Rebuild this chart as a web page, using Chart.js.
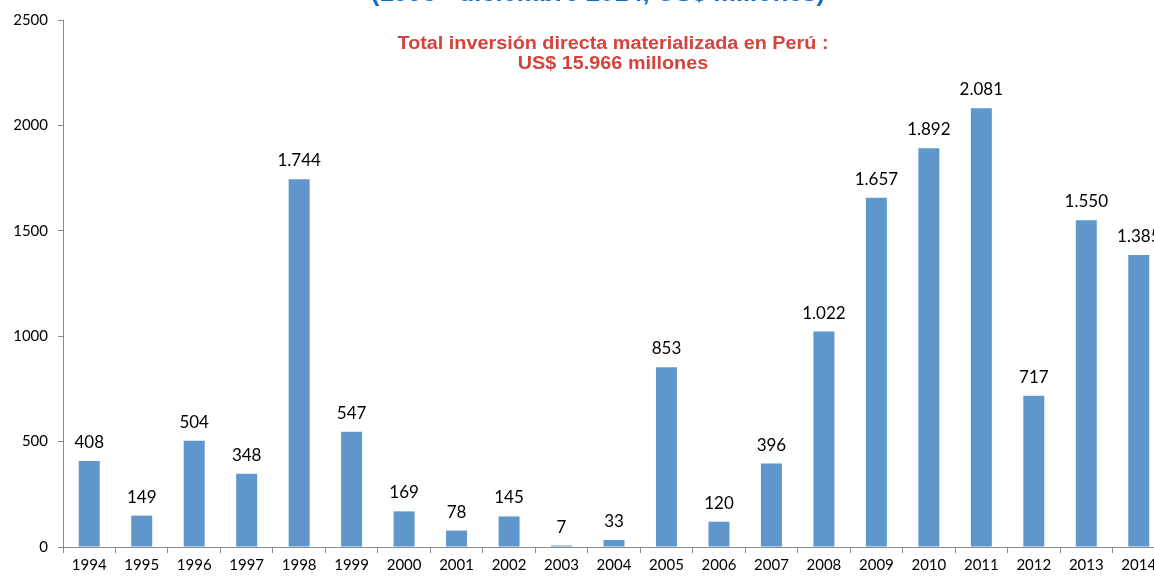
<!DOCTYPE html>
<html>
<head>
<meta charset="utf-8">
<script src="https://cdn.jsdelivr.net/npm/chart.js@4"></script>
<style>
  html, body { margin: 0; padding: 0; background: #fff; overflow: hidden; }
  #wrap { position: absolute; left: 0; top: 0; width: 1165px; height: 578px; }
</style>
</head>
<body>
<div id="wrap"><canvas id="chart"></canvas></div>
<script>
// Datos
const years = ['1994','1995','1996','1997','1998','1999','2000','2001','2002','2003','2004',
               '2005','2006','2007','2008','2009','2010','2011','2012','2013','2014'];
const inversion = [408, 149, 504, 348, 1744, 547, 169, 78, 145, 7, 33,
                   853, 120, 396, 1022, 1657, 1892, 2081, 717, 1550, 1385];
const yTicks = [0, 500, 1000, 1500, 2000, 2500];
const titulo = '(1996 - diciembre 2014, US$ millones)';
const subtitulo = ['Total inversión directa materializada en Perú :', 'US$ 15.966 millones'];

const fmt = v => String(v).replace(/\B(?=(\d{3})+(?!\d))/g, '.');

// texto estirado en horizontal, como en la imagen original
function textoAncho(ctx, txt, x, y, sx) {
    ctx.save();
    ctx.translate(x, y);
    ctx.scale(sx, 1);
    ctx.fillText(txt, 0, 0);
    ctx.restore();
}

// Etiquetas de valor y textos superiores
const textos = {
    id: 'textos',
    afterDatasetsDraw(chart) {
        const ctx = chart.ctx;
        const meta = chart.getDatasetMeta(0);
        ctx.save();
        ctx.fillStyle = '#000';
        ctx.font = '17px Lato, "Open Sans", sans-serif';
        ctx.textAlign = 'center';
        ctx.textBaseline = 'bottom';
        meta.data.forEach((bar, i) => {
            ctx.fillText(fmt(inversion[i]), bar.x, bar.y - 10);
        });
        ctx.textBaseline = 'alphabetic';
        ctx.font = 'bold 24px "Liberation Sans", Arial, sans-serif';
        ctx.fillStyle = '#0F6FC6';
        textoAncho(ctx, titulo, 598, 1, 1.06);
        ctx.font = 'bold 18px "Liberation Sans", Arial, sans-serif';
        ctx.fillStyle = '#D5433D';
        textoAncho(ctx, subtitulo[0], 613, 49, 1.1);
        textoAncho(ctx, subtitulo[1], 613, 69, 1.1);
        ctx.restore();
    }
};

new Chart(document.getElementById('chart'), {
    type: 'bar',
    data: {
        labels: years,
        datasets: [{
            data: inversion,
            backgroundColor: '#5F96CC',
            barPercentage: 0.4,
            categoryPercentage: 1
        }]
    },
    options: {
        responsive: true,
        maintainAspectRatio: false,
        animation: false,
        layout: { padding: { top: 20, right: 0, left: 0, bottom: 0 } },
        plugins: { legend: { display: false }, tooltip: { enabled: false } },
        scales: {
            x: {
                offset: true,
                grid: { offset: true, drawOnChartArea: false, color: '#8C8C8C', tickLength: 6 },
                border: { color: '#8C8C8C' },
                ticks: { color: '#000', font: { family: 'Lato, "Open Sans", sans-serif', size: 15 }, padding: 3, maxRotation: 0, autoSkip: false },
                afterFit(s) { s.height = 31; }
            },
            y: {
                min: 0,
                max: 2500,
                afterBuildTicks(s) { s.ticks = yTicks.map(v => ({ value: v })); },
                grid: { drawOnChartArea: false, color: '#8C8C8C', tickLength: 5 },
                border: { color: '#8C8C8C' },
                ticks: { color: '#000', font: { family: 'Lato, "Open Sans", sans-serif', size: 15 }, padding: 10, callback: v => String(v) },
                afterFit(s) { s.width = 63; }
            }
        }
    },
    plugins: [textos]
});
</script>
</body>
</html>
